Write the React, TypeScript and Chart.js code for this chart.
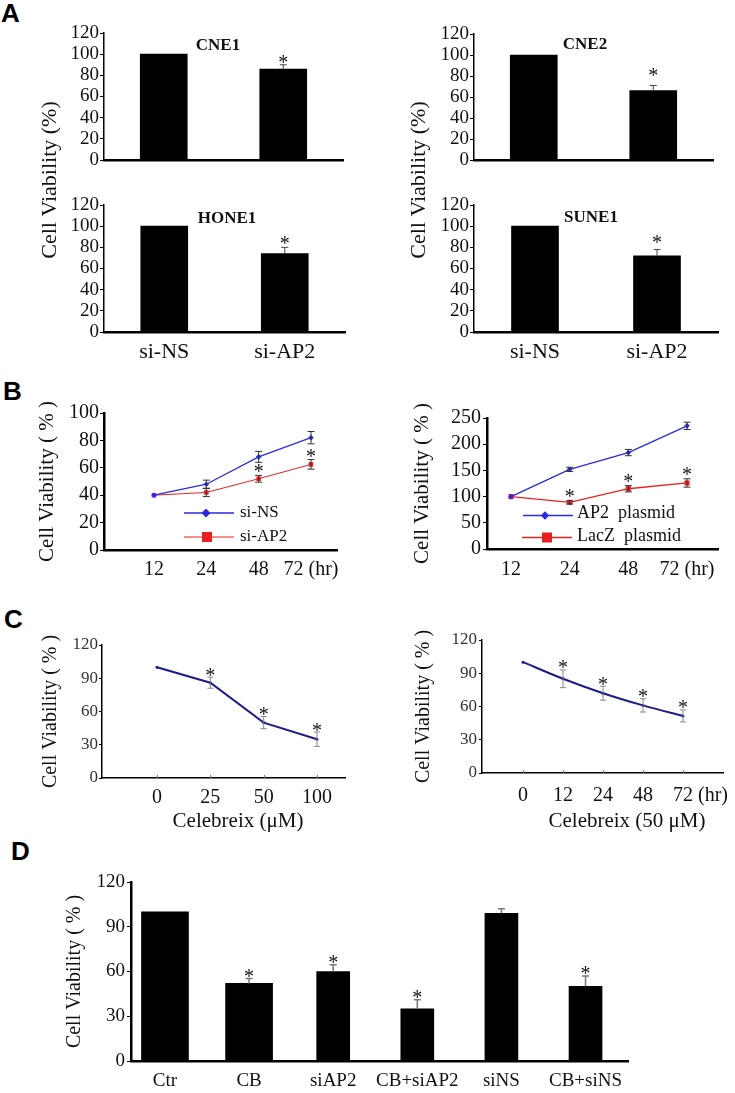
import React, { useEffect, useRef } from "react";
import { Chart, registerables } from "chart.js";

Chart.register(...registerables);

const SERIF = "'Liberation Serif', 'Times New Roman', Times, serif";
const SANS = "'Liberation Sans', Arial, Helvetica, sans-serif";
const PAGE_W = 735;
const PAGE_H = 1093;

// ---------------- Data ----------------
// Panel A
const siCategories = ["si-NS", "si-AP2"];
const cne1Viability = [100, 86];
const cne1Error = [0, 4];
const cne2Viability = [100, 66];
const cne2Error = [0, 5];
const hone1Viability = [100, 74];
const hone1Error = [0, 6];
const sune1Viability = [100, 72];
const sune1Error = [0, 6];
const siSignificant = [false, true];

// Panel B
const hoursB = ["12", "24", "48", "72 (hr)"];
const siNSViability = [40, 48, 68, 82];
const siNSError = [0, 3, 4, 4.5];
const siAP2Viability = [40, 42, 52, 62.5];
const siAP2Error = [0, 3, 2.5, 3.5];
const siAP2Significant = [false, false, true, true];
const ap2PlasmidViability = [100, 152, 184, 235];
const ap2PlasmidError = [0, 4, 6, 7];
const lacZPlasmidViability = [100, 89, 115, 126];
const lacZPlasmidError = [0, 3, 6, 8];
const lacZSignificant = [false, true, true, true];

// Panel C
const celebrexDoses = ["0", "25", "50", "100"];
const doseViability = [100, 86, 50, 35];
const doseError = [0, 5, 5.5, 6.5];
const doseSignificant = [false, true, true, true];
const hoursC = ["0", "12", "24", "48", "72"];
const timeViability = [100, 85, 72, 61, 51.5];
const timeError = [0, 8, 6.3, 6, 5.4];
const timeSignificant = [false, true, true, true, true];

// Panel D
const groupsD = ["Ctr", "CB", "siAP2", "CB+siAP2", "siNS", "CB+siNS"];
const viabilityD = [100, 52, 60, 35, 99, 50];
const errorD = [0, 3.3, 4.5, 6, 3, 7];
const significantD = [false, true, true, true, false, true];

// ---------------- Styles ----------------
const BLUE = "#2a2ae0";
const RED = "#e82020";
const MAGENTA = "#e020e0";
const NAVY = "#1c1c8c";

type Area = { l: number; r: number; t: number; b: number; yw: number; xh: number };

function pad(a: Area) {
  return { left: a.l - a.yw, right: PAGE_W - a.r, top: a.t, bottom: PAGE_H - a.b - a.xh };
}

const pts = (arr: number[]) => arr.map((v, i) => ({ x: i, y: v }));

// ---------------- Plugin ----------------
const decorPlugin = {
  id: "decor",
  afterDatasetsDraw(chart: any, _args: any, opts: any) {
    const ctx: CanvasRenderingContext2D = chart.ctx;
    const ys = chart.scales.y;
    const xs = chart.scales.x;
    ctx.save();
    if (opts.innerTicks) {
      ctx.strokeStyle = opts.innerTicks.color;
      ctx.lineWidth = 1;
      ctx.beginPath();
      for (let i = 0; i < opts.innerTicks.count; i++) {
        const px = Math.round(xs.getPixelForValue(i)) + 0.5;
        ctx.moveTo(px, xs.top);
        ctx.lineTo(px, xs.top - opts.innerTicks.len);
      }
      ctx.stroke();
    }
    for (const eb of opts.errorBars || []) {
      const meta = chart.getDatasetMeta(eb.dataset);
      const data = chart.data.datasets[eb.dataset].data;
      meta.data.forEach((el: any, j: number) => {
        const raw = data[j];
        const v = raw != null && typeof raw === "object" ? raw.y : raw;
        if (v == null) return;
        const e = eb.err[j] || 0;
        const x = el.x;
        const top = ys.getPixelForValue(v + e);
        if (e > 0) {
          const bot = eb.both ? ys.getPixelForValue(v - e) : ys.getPixelForValue(v);
          ctx.strokeStyle = eb.color;
          ctx.lineWidth = eb.width;
          ctx.beginPath();
          ctx.moveTo(x, bot);
          ctx.lineTo(x, top);
          ctx.moveTo(x - eb.cap, top);
          ctx.lineTo(x + eb.cap, top);
          if (eb.both) {
            ctx.moveTo(x - eb.cap, bot);
            ctx.lineTo(x + eb.cap, bot);
          }
          ctx.stroke();
        }
        if (eb.sig && eb.sig[j]) {
          ctx.fillStyle = "#111";
          ctx.font = `${eb.starSize}px ${SERIF}`;
          ctx.textAlign = "center";
          ctx.textBaseline = "alphabetic";
          ctx.fillText("*", x, top - eb.starGap + eb.starSize * 0.25);
        }
      });
    }
    for (const lg of opts.legend || []) {
      const ds = chart.data.datasets[lg.dataset];
      ctx.strokeStyle = ds.borderColor;
      ctx.lineWidth = ds.borderWidth;
      ctx.beginPath();
      ctx.moveTo(lg.x1, lg.y);
      ctx.lineTo(lg.x2, lg.y);
      ctx.stroke();
      ctx.fillStyle = ds.borderColor;
      ctx.beginPath();
      if (lg.shape === "diamond") {
        ctx.moveTo(lg.mx, lg.y - lg.ms);
        ctx.lineTo(lg.mx + lg.ms, lg.y);
        ctx.lineTo(lg.mx, lg.y + lg.ms);
        ctx.lineTo(lg.mx - lg.ms, lg.y);
        ctx.closePath();
      } else {
        ctx.rect(lg.mx - lg.ms, lg.y - lg.ms, lg.ms * 2, lg.ms * 2);
      }
      ctx.fill();
      ctx.fillStyle = "#111";
      ctx.font = lg.font;
      ctx.textAlign = "left";
      ctx.textBaseline = "alphabetic";
      ctx.fillText(ds.label, lg.tx, lg.ty);
    }
    if (opts.suffix) {
      const s = opts.suffix;
      ctx.font = `${s.size}px ${SERIF}`;
      ctx.fillStyle = s.color;
      ctx.textAlign = "left";
      ctx.textBaseline = "middle";
      const px = xs.getPixelForValue(s.index) + ctx.measureText(s.label).width / 2 + ctx.measureText(" ").width;
      const py = xs.top + s.padding + (s.size * 1.2) / 2;
      ctx.fillText(s.text, px, py);
    }
    for (const t of opts.texts || []) {
      ctx.save();
      ctx.font = t.font;
      ctx.fillStyle = t.color || "#111";
      ctx.textAlign = t.align || "center";
      ctx.textBaseline = t.baseline || "alphabetic";
      ctx.translate(t.x, t.y);
      if (t.rotate) ctx.rotate(-Math.PI / 2);
      ctx.fillText(t.text, 0, 0);
      ctx.restore();
    }
    ctx.restore();
  },
};

// ---------------- Builders ----------------
function yScale(a: Area, max: number, step: number, o: any) {
  return {
    type: "linear",
    min: 0,
    max,
    ticks: {
      stepSize: step,
      autoSkip: false,
      font: { family: SERIF, size: o.font },
      color: o.color || "#111",
      padding: o.pad,
    },
    grid: { drawOnChartArea: false, drawTicks: true, tickLength: o.tick, color: "#000", lineWidth: 1 },
    border: { display: true, color: "#000", width: o.border },
    title: o.title
      ? {
          display: true,
          text: o.title,
          font: { family: SERIF, size: o.titleSize, lineHeight: 1.2 },
          color: "#111",
          padding: 0,
        }
      : { display: false },
    afterFit: (s: any) => {
      s.width = a.yw;
    },
  };
}

function xLinear(a: Area, min: number, max: number, labels: string[], o: any) {
  return {
    type: "linear",
    min,
    max,
    offset: false,
    afterBuildTicks: (s: any) => {
      s.ticks = labels.map((_, i) => ({ value: i }));
    },
    ticks: {
      callback: (v: any) => labels[v] ?? "",
      font: { family: SERIF, size: o.font },
      color: o.color || "#111",
      padding: o.pad,
      autoSkip: false,
      maxRotation: 0,
      minRotation: 0,
    },
    grid: { display: false, drawTicks: false, offset: false },
    border: { display: true, color: "#000", width: o.border },
    afterFit: (s: any) => {
      s.height = a.xh;
    },
  };
}

function baseOptions(a: Area, scales: any, decor: any) {
  return {
    responsive: false,
    animation: false,
    events: [],
    layout: { padding: pad(a) },
    plugins: { legend: { display: false }, tooltip: { enabled: false }, decor },
    scales,
  };
}

function panelA(
  a: Area,
  values: number[],
  errors: number[],
  title: string,
  tx: number,
  ty: number,
  showLabels: boolean,
  starGap: number,
  extraTexts: any[]
) {
  return {
    type: "bar",
    data: {
      labels: siCategories,
      datasets: [{ label: title, data: values, backgroundColor: "#000", borderWidth: 0, barThickness: 47 }],
    },
    plugins: [decorPlugin],
    options: baseOptions(
      a,
      {
        x: {
          type: "category",
          offset: true,
          grid: { display: false, drawTicks: false },
          border: { display: true, color: "#000", width: 2.5 },
          ticks: { display: showLabels, font: { family: SERIF, size: 22 }, color: "#111", padding: 7, maxRotation: 0 },
          afterFit: (s: any) => {
            s.height = a.xh;
          },
        },
        y: yScale(a, 120, 20, { font: 19, tick: 4, pad: 1, border: 1.5 }),
      },
      {
        errorBars: [
          { dataset: 0, err: errors, sig: siSignificant, both: false, color: "#444", width: 1, cap: 3.5, starSize: 20, starGap },
        ],
        texts: [{ text: title, x: tx, y: ty, font: `bold 17px ${SERIF}` }, ...extraTexts],
      }
    ),
  };
}

const areaA1: Area = { l: 104, r: 343, t: 33, b: 160, yw: 60, xh: 40 };
const areaA2: Area = { l: 474, r: 713, t: 34, b: 160, yw: 60, xh: 40 };
const areaA3: Area = { l: 104, r: 345, t: 205, b: 332, yw: 60, xh: 40 };
const areaA4: Area = { l: 474, r: 718, t: 205, b: 332, yw: 60, xh: 40 };
const areaB1: Area = { l: 104, r: 337, t: 413, b: 550, yw: 69.6, xh: 40 };
const areaB2: Area = { l: 487, r: 718, t: 418, b: 549, yw: 77.6, xh: 40 };
const areaC1: Area = { l: 102, r: 345, t: 645, b: 778, yw: 63, xh: 40 };
const areaC2: Area = { l: 482, r: 723, t: 640, b: 773, yw: 70, xh: 40 };
const areaD: Area = { l: 131, r: 628, t: 882, b: 1061, yw: 68, xh: 31 };

const titleA = "Cell Viability (%)";
const titleBCD = "Cell Viability ( % )";

const makeConfigs = (): any[] => [
  panelA(areaA1, cne1Viability, cne1Error, "CNE1", 218, 50, false, 1, [
    { text: titleA, x: 50, y: 180, font: `22px ${SERIF}`, rotate: true, baseline: "middle" },
  ]),
  panelA(areaA2, cne2Viability, cne2Error, "CNE2", 585, 49, false, 8, [
    { text: titleA, x: 419, y: 180, font: `22px ${SERIF}`, rotate: true, baseline: "middle" },
  ]),
  panelA(areaA3, hone1Viability, hone1Error, "HONE1", 227, 222.5, true, 2, []),
  panelA(areaA4, sune1Viability, sune1Error, "SUNE1", 591, 222, true, 5, []),
  // B left
  {
    type: "line",
    data: {
      datasets: [
        {
          label: "si-NS",
          data: pts(siNSViability),
          borderColor: BLUE,
          borderWidth: 1.3,
          pointStyle: "rectRot",
          pointRadius: 2.8,
          pointBackgroundColor: BLUE,
          pointBorderWidth: 0,
          tension: 0,
        },
        {
          label: "si-AP2",
          data: pts(siAP2Viability),
          borderColor: RED,
          borderWidth: 1,
          pointStyle: "rect",
          pointRadius: 3.2,
          pointBackgroundColor: siAP2Viability.map((_, i) => (i === 0 ? MAGENTA : RED)),
          pointBorderWidth: 0,
          tension: 0,
        },
      ],
    },
    plugins: [decorPlugin],
    options: baseOptions(
      areaB1,
      {
        x: xLinear(areaB1, -0.955, 3.497, hoursB, { font: 20, pad: 8, border: 2.5 }),
        y: yScale(areaB1, 100, 20, { font: 20, tick: 4, pad: 1, border: 2.5, title: titleBCD, titleSize: 21 }),
      },
      {
        errorBars: [
          { dataset: 0, err: siNSError, both: true, color: "#333", width: 1, cap: 3.5, starSize: 20, starGap: 2 },
          { dataset: 1, err: siAP2Error, sig: siAP2Significant, both: true, color: "#333", width: 1, cap: 3.5, starSize: 20, starGap: 2 },
        ],
        legend: [
          { dataset: 0, x1: 184, x2: 234, y: 513, mx: 206, ms: 4.5, tx: 240, ty: 517, shape: "diamond", font: `17px ${SERIF}` },
          { dataset: 1, x1: 184, x2: 234, y: 537, mx: 207, ms: 5, tx: 240, ty: 541, shape: "square", font: `17px ${SERIF}` },
        ],
      }
    ),
  },
  // B right
  {
    type: "line",
    data: {
      datasets: [
        {
          label: "AP2  plasmid",
          data: pts(ap2PlasmidViability),
          borderColor: BLUE,
          borderWidth: 1.3,
          pointStyle: "rectRot",
          pointRadius: 2.8,
          pointBackgroundColor: BLUE,
          pointBorderWidth: 0,
          tension: 0,
        },
        {
          label: "LacZ  plasmid",
          data: pts(lacZPlasmidViability),
          borderColor: RED,
          borderWidth: 1.3,
          pointStyle: "rect",
          pointRadius: 3.6,
          pointBackgroundColor: RED,
          pointBorderWidth: 0,
          tension: 0,
        },
      ],
    },
    plugins: [decorPlugin],
    options: baseOptions(
      areaB2,
      {
        x: xLinear(areaB2, -0.409, 3.528, hoursB, { font: 20, pad: 9, border: 2.5 }),
        y: yScale(areaB2, 250, 50, { font: 20, tick: 4, pad: 2, border: 2.5, title: titleBCD, titleSize: 21 }),
      },
      {
        errorBars: [
          { dataset: 0, err: ap2PlasmidError, both: true, color: "#333", width: 1, cap: 3.5, starSize: 20, starGap: 2 },
          { dataset: 1, err: lacZPlasmidError, sig: lacZSignificant, both: true, color: "#333", width: 1, cap: 3.5, starSize: 20, starGap: 2.5 },
        ],
        legend: [
          { dataset: 0, x1: 523, x2: 573, y: 515.5, mx: 545, ms: 4.2, tx: 577, ty: 518, shape: "diamond", font: `18px ${SERIF}` },
          { dataset: 1, x1: 522, x2: 572, y: 537.5, mx: 547, ms: 5, tx: 577, ty: 541, shape: "square", font: `18px ${SERIF}` },
        ],
      }
    ),
  },
  // C left
  {
    type: "line",
    data: {
      datasets: [
        {
          label: "Celebreix dose",
          data: pts(doseViability),
          borderColor: NAVY,
          borderWidth: 2,
          pointRadius: 1.5,
          pointBackgroundColor: NAVY,
          pointBorderWidth: 0,
          tension: 0,
        },
      ],
    },
    plugins: [decorPlugin],
    options: baseOptions(
      areaC1,
      {
        x: xLinear(areaC1, -1.031, 3.525, celebrexDoses, { font: 20, pad: 8, border: 1.5 }),
        y: yScale(areaC1, 120, 30, { font: 17, tick: 3, pad: 1, border: 1.5, color: "#333", title: titleBCD, titleSize: 20 }),
      },
      {
        innerTicks: { count: celebrexDoses.length, len: 3, color: "#777" },
        errorBars: [
          { dataset: 0, err: doseError, sig: doseSignificant, both: true, color: "#888", width: 1, cap: 3, starSize: 20, starGap: 0.5 },
        ],
        texts: [{ text: "Celebreix (\u03bcM)", x: 238, y: 827, font: `21px ${SERIF}` }],
      }
    ),
  },
  // C right
  {
    type: "line",
    data: {
      datasets: [
        {
          label: "Celebreix 50 uM",
          data: pts(timeViability),
          borderColor: NAVY,
          borderWidth: 2,
          pointRadius: 1.5,
          pointBackgroundColor: NAVY,
          pointBorderWidth: 0,
          cubicInterpolationMode: "monotone",
        },
      ],
    },
    plugins: [decorPlugin],
    options: baseOptions(
      areaC2,
      {
        x: xLinear(areaC2, -1.025, 5.0, hoursC, { font: 20, pad: 11, border: 1.5 }),
        y: yScale(areaC2, 120, 30, { font: 17, tick: 3, pad: 2, border: 1.5, color: "#333", title: titleBCD, titleSize: 20 }),
      },
      {
        innerTicks: { count: hoursC.length, len: 3, color: "#777" },
        errorBars: [
          { dataset: 0, err: timeError, sig: timeSignificant, both: true, color: "#888", width: 1, cap: 3, starSize: 20, starGap: 0.5 },
        ],
        suffix: { index: hoursC.length - 1, label: hoursC[hoursC.length - 1], text: "(hr)", size: 20, padding: 11, color: "#111" },
        texts: [{ text: "Celebreix (50 \u03bcM)", x: 627, y: 827, font: `21px ${SERIF}` }],
      }
    ),
  },
  // D
  {
    type: "bar",
    data: {
      datasets: [
        {
          label: "viability (wide)",
          data: viabilityD.map((v, i) => ({ x: i, y: i < 2 ? v : null })),
          backgroundColor: "#000",
          borderWidth: 0,
          barThickness: 47,
          grouped: false,
        },
        {
          label: "viability (narrow)",
          data: viabilityD.map((v, i) => ({ x: i, y: i >= 2 ? v : null })),
          backgroundColor: "#000",
          borderWidth: 0,
          barThickness: 33,
          grouped: false,
        },
      ],
    },
    plugins: [decorPlugin],
    options: baseOptions(
      areaD,
      {
        x: xLinear(areaD, -0.404, 5.505, groupsD, { font: 19, pad: 9, border: 2.5 }),
        y: yScale(areaD, 120, 30, { font: 19, tick: 4, pad: 2, border: 2.5, title: titleBCD, titleSize: 20 }),
      },
      {
        errorBars: [
          { dataset: 0, err: errorD, sig: significantD, both: false, color: "#777", width: 1.5, cap: 3.5, starSize: 20, starGap: 1 },
          { dataset: 1, err: errorD, sig: significantD, both: false, color: "#777", width: 1.5, cap: 3.5, starSize: 20, starGap: 1 },
        ],
      }
    ),
  },
];

function ChartCanvas({ make }: { make: () => any }) {
  const ref = useRef<HTMLCanvasElement>(null);
  useEffect(() => {
    if (!ref.current) return;
    const chart = new Chart(ref.current, make());
    return () => chart.destroy();
  }, [make]);
  return (
    <canvas
      ref={ref}
      width={PAGE_W}
      height={PAGE_H}
      style={{ position: "absolute", left: 0, top: 0, width: PAGE_W, height: PAGE_H, pointerEvents: "none" }}
    />
  );
}

const configFactories = makeConfigs().map((c) => () => c);

const letterStyle: React.CSSProperties = {
  position: "absolute",
  fontFamily: SANS,
  fontWeight: "bold",
  fontSize: 26,
  lineHeight: "26px",
  color: "#000",
};

export default function App() {
  return (
    <div
      style={{
        position: "absolute",
        left: 0,
        top: 0,
        width: PAGE_W,
        height: PAGE_H,
        background: "#fff",
        overflow: "hidden",
      }}
    >
      <div style={{ ...letterStyle, left: 1, top: 0 }}>A</div>
      <div style={{ ...letterStyle, left: 3, top: 378 }}>B</div>
      <div style={{ ...letterStyle, left: 4, top: 606 }}>C</div>
      <div style={{ ...letterStyle, left: 11, top: 838 }}>D</div>
      {configFactories.map((f, i) => (
        <ChartCanvas key={i} make={f} />
      ))}
    </div>
  );
}
